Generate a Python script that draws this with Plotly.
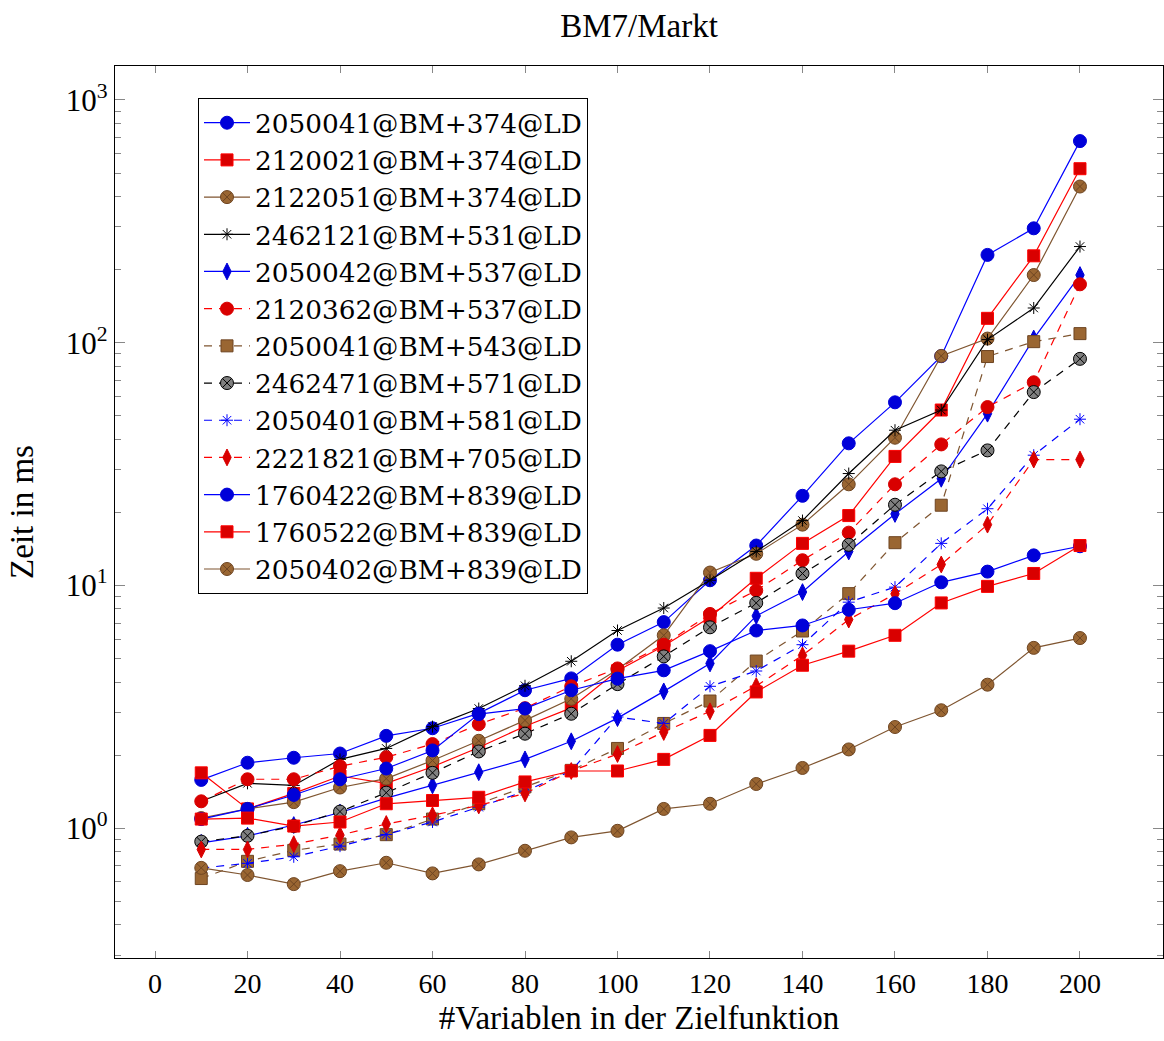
import plotly.graph_objects as go

x_vals = [10, 20, 30, 40, 50, 60, 70, 80, 90, 100, 110, 120, 130, 140, 150, 160, 170, 180, 190, 200]

s_2050041_374 = [1.58, 1.86, 1.95, 2.03, 2.40, 2.58, 2.97, 3.70, 4.14, 5.70, 7.06, 10.5, 14.6, 23.4, 38.5, 56.8, 88, 230, 296, 677]
s_2120021_374 = [1.69, 1.20, 1.39, 1.64, 1.53, 1.79, 2.15, 2.63, 3.13, 4.45, 5.63, 7.4, 10.7, 14.9, 19.4, 34.0, 52.8, 126, 228, 521]
s_2122051_374 = [1.10, 1.20, 1.28, 1.47, 1.60, 1.90, 2.29, 2.78, 3.41, 4.5, 6.23, 11.3, 13.5, 17.8, 26.1, 40.6, 88.2, 104, 190, 440]
s_2462121_531 = [1.29, 1.53, 1.50, 1.92, 2.13, 2.62, 3.11, 3.86, 4.87, 6.52, 8.07, 10.5, 13.8, 18.5, 28.9, 43.6, 52.8, 103, 139, 249]
s_2050042_537 = [0.87, 0.93, 1.03, 1.16, 1.33, 1.50, 1.70, 1.92, 2.28, 2.84, 3.66, 4.77, 7.49, 9.39, 13.8, 19.7, 27.5, 51, 104, 190]
s_2120362_537 = [1.29, 1.59, 1.59, 1.80, 1.96, 2.22, 2.68, 3.12, 3.84, 4.55, 5.7, 7.63, 9.53, 12.7, 16.5, 26.1, 38.1, 54.3, 68.7, 174]
s_2050041_543 = [0.62, 0.73, 0.81, 0.86, 0.94, 1.09, 1.26, 1.48, 1.73, 2.13, 2.70, 3.34, 4.88, 6.49, 9.25, 15.0, 21.4, 87.7, 101, 109]
s_2462471_571 = [0.88, 0.93, 1.02, 1.17, 1.40, 1.69, 2.07, 2.45, 2.96, 3.92, 5.10, 6.72, 8.47, 11.2, 14.7, 21.5, 29.5, 36.0, 62.6, 85.8]
s_2050401_581 = [0.685, 0.716, 0.762, 0.843, 0.942, 1.06, 1.22, 1.42, 1.72, 2.87, 2.70, 3.84, 4.44, 5.70, 8.53, 9.84, 14.9, 20.7, 34.4, 48.4]
s_2221821_705 = [0.817, 0.817, 0.859, 0.936, 1.04, 1.13, 1.24, 1.39, 1.72, 2.02, 2.49, 3.03, 3.85, 5.15, 7.23, 9.23, 12.2, 17.8, 33.0, 33.0]
s_1760422_839 = [1.09, 1.20, 1.37, 1.59, 1.76, 2.09, 2.95, 3.11, 3.70, 4.13, 4.47, 5.36, 6.52, 6.84, 7.94, 8.45, 10.3, 11.4, 13.3, 14.5]
s_1760522_839 = [1.09, 1.10, 1.02, 1.06, 1.26, 1.30, 1.34, 1.55, 1.72, 1.72, 1.92, 2.41, 3.64, 4.69, 5.36, 6.23, 8.47, 9.91, 11.2, 14.6]
s_2050402_839 = [0.686, 0.641, 0.588, 0.665, 0.720, 0.651, 0.709, 0.807, 0.916, 0.975, 1.20, 1.26, 1.52, 1.77, 2.11, 2.61, 3.06, 3.90, 5.53, 6.07]

x_ticks = [0, 20, 40, 60, 80, 100, 120, 140, 160, 180, 200]
y_ticks = [1, 10, 100, 1000]
y_tick_text = ["10<sup>0</sup>", "10<sup>1</sup>", "10<sup>2</sup>", "10<sup>3</sup>"]
y_minor = [k * 10 ** n for n in range(-1, 4) for k in range(2, 10)]

BLUE_L, BLUE_M = "#0000ff", "#0000d9"
RED_L, RED_M = "#ff0000", "#d90000"
BROWN_L, BROWN_M, BROWN_O = "#7f5530", "#9a6632", "#6e4522"
BLACK = "#000000"
DASH = "8px,7px"

series = [
    ("2050041@BM+374@LD", s_2050041_374, BLUE_L, "solid", "circle", BLUE_M, BLUE_M, 13),
    ("2120021@BM+374@LD", s_2120021_374, RED_L, "solid", "square", RED_M, RED_L, 12),
    ("2122051@BM+374@LD", s_2122051_374, BROWN_L, "solid", "circle-x", BROWN_M, BROWN_O, 13),
    ("2462121@BM+531@LD", s_2462121_531, BLACK, "solid", "asterisk-open", BLACK, BLACK, 10),
    ("2050042@BM+537@LD", s_2050042_537, BLUE_L, "solid", "diamond-tall", BLUE_M, BLUE_M, 12),
    ("2120362@BM+537@LD", s_2120362_537, RED_L, DASH, "circle", RED_M, RED_M, 13),
    ("2050041@BM+543@LD", s_2050041_543, BROWN_L, DASH, "square", BROWN_M, BROWN_O, 12),
    ("2462471@BM+571@LD", s_2462471_571, BLACK, DASH, "circle-x", "#808080", BLACK, 13),
    ("2050401@BM+581@LD", s_2050401_581, BLUE_L, DASH, "asterisk-open", BLUE_L, BLUE_L, 10),
    ("2221821@BM+705@LD", s_2221821_705, RED_L, DASH, "diamond-tall", RED_M, RED_M, 12),
    ("1760422@BM+839@LD", s_1760422_839, BLUE_L, "solid", "circle", BLUE_M, BLUE_M, 13),
    ("1760522@BM+839@LD", s_1760522_839, RED_L, "solid", "square", RED_M, RED_L, 12),
    ("2050402@BM+839@LD", s_2050402_839, BROWN_L, "solid", "circle-x", BROWN_M, BROWN_O, 13),
]

fig = go.Figure()
for name, vals, lc, dash, sym, mfill, mline, msize in series:
    fig.add_trace(go.Scatter(
        x=x_vals, y=vals, name=name, mode="lines+markers",
        line=dict(color=lc, width=1.2, dash=dash),
        marker=dict(symbol=sym, size=msize, color=mfill,
                    line=dict(color=mline, width=1)),
    ))

FONT = "Liberation Serif"
LEGFONT = "DejaVu Serif"
fig.update_layout(
    width=1164, height=1041,
    margin=dict(l=115, r=1, t=66, b=83),
    paper_bgcolor="white", plot_bgcolor="white",
    font=dict(family=FONT, size=28, color="black"),
    title=dict(text="BM7/Markt", x=0.549, xanchor="center", y=0.976, yanchor="middle",
               font=dict(family=FONT, size=33, color="black")),
    showlegend=True,
    legend=dict(x=0.0792, y=0.964, xanchor="left", yanchor="top",
                bordercolor="black", borderwidth=1, bgcolor="white",
                font=dict(family=LEGFONT, size=26.3, color="black"),
                itemwidth=46, tracegroupgap=0),
)
fig.update_xaxes(
    range=[-8.65, 217.95], tickvals=x_ticks, ticks="inside", ticklen=7,
    tickcolor="#888888", tickwidth=1, showline=True, linecolor="black", linewidth=1.2,
    mirror="ticks", showgrid=False, zeroline=False, automargin=False,
    tickfont=dict(family=FONT, size=28),
    title=dict(text="#Variablen in der Zielfunktion", standoff=8,
               font=dict(family=FONT, size=33)),
)
fig.update_yaxes(
    type="log", range=[-0.535, 3.14], tickvals=y_ticks, ticktext=y_tick_text,
    ticks="inside", ticklen=10, tickcolor="#888888", tickwidth=1,
    showline=True, linecolor="black", linewidth=1.2, mirror="ticks",
    showgrid=False, zeroline=False, automargin=False,
    tickfont=dict(family=FONT, size=31),
    minor=dict(tickvals=y_minor, ticks="inside", ticklen=6, tickcolor="#888888", showgrid=False),
    title=dict(text="Zeit in ms", standoff=22, font=dict(family=FONT, size=33)),
)

fig.write_html("out.html")
